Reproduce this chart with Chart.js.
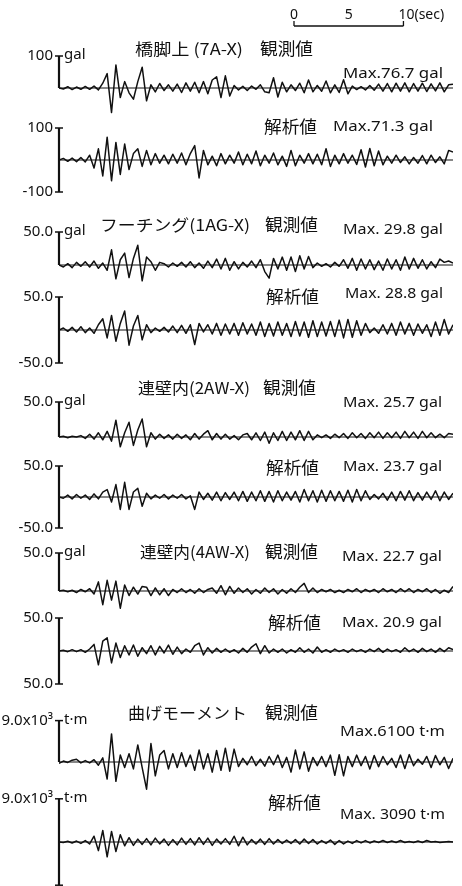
<!DOCTYPE html>
<html lang="ja">
<head>
<meta charset="utf-8">
<title>地震応答波形 観測値と解析値</title>
<script src="https://cdn.jsdelivr.net/npm/chart.js@4.4.1/dist/chart.umd.min.js"></script>
<style>
  html, body { margin: 0; padding: 0; background: #fff; }
  #wrap { position: relative; width: 462px; height: 886px; }
  canvas { display: block; }
</style>
</head>
<body>
<div id="wrap"><canvas id="wave" width="462" height="886"></canvas></div>
<script>
// Sampling of the digitised records
const DT = 0.4;          // s between samples
const T_END = 36;        // s shown on every trace
const SCALE_BAR = [0, 5, 10];   // s, time scale marks

// 橋脚上 (7A-X), gal
const obs7A = [
  0, -3, 4, -5, 3, -4, 5, -4, 6, -6,
  15, 45, -76.7, 72, -30, 20, -15, -35, 20, 65,
  -40, 10, -12, 14, -8, 10, -10, 12, -14, 16,
  -10, 18, -15, 20, -18, 25, 35, -30, 38, -25,
  8, -6, 5, -8, 6, -4, 10, -12, -15, 32,
  -28, 18, -12, 10, -8, 15, -15, 25, -12, 8,
  -10, 22, -15, 10, -14, 26, -18, 6, -5, 4,
  -6, 8, -7, 12, -10, 14, -12, 15, -10, 16,
  -12, 14, -10, 15, -11, 13, -9, 16, -12, 10,
  12
];
const sim7A = [
  0, 5, -4, 6, -5, 8, -6, 15, -25, 35,
  -50, 71.3, -65, 55, -45, 50, -30, 20, 35, -20,
  30, -15, 20, -10, 15, -12, 18, -10, 22, -15,
  20, 45, -56, 30, -15, 12, -18, 20, -12, 15,
  -10, 25, -15, 18, -12, 28, -18, 15, -10, 22,
  -15, 12, -20, 30, -18, 15, -10, 20, -12, 18,
  -15, 35, -20, 15, -12, 20, -10, 15, -14, 32,
  -22, 36, -18, 28, -15, 12, -10, 15, -8, 10,
  -12, 8, -10, 14, -12, 15, -8, 10, -12, 30,
  25
];
// フーチング (1AG-X), gal
const obs1AG = [
  0, -3, 2, -4, 4, -2, 5, -3, 6, -5,
  3, -8, 23, -21, 8, 18, -19, 10, 29.8, -24,
  12, 5, -8, 4, 2, -3, 3, -2, 4, -3,
  5, -4, 3, -5, 6, -4, 9, -6, 10, -8,
  5, -6, 4, -3, 6, -4, 8, -10, -20, 10,
  -6, 12, -8, 12, -10, 14, -6, 13, -4, 3,
  -2, 2, -3, 4, -2, 8, -5, 10, -8, 9,
  -6, 8, -7, 6, -8, 9, -6, 8, -8, 12,
  -6, 10, -5, 8, -6, 5, -4, 9, 4, 6,
  3
];
const sim1AG = [
  0, 3, -2, 4, -3, 5, -4, 3, -5, 8,
  17, -12, 22, -17, 10, 28.8, -23, 6, 22, -15,
  8, -4, 3, -2, 4, -3, 6, -4, 7, -5,
  8, -22, 10, -3, 8, -6, 10, -8, 9, -6,
  10, -8, 11, -6, 9, -8, 12, -10, 10, -9,
  12, -8, 10, -10, 13, -9, 12, -11, 14, -10,
  12, -9, 13, -10, 15, -12, 16, -11, 14, -8,
  10, -4, 3, -5, 8, -6, 10, -8, 12, -6,
  10, -8, 9, -5, 8, -10, 12, -8, 16, -6,
  8
];
// 連壁内 (2AW-X), gal
const obs2AW = [
  0, 1, -1, 1, 0, 2, -2, 4, -3, 6,
  -4, 8, -6, 24, -14, 6, 21, -12, 10, 25.7,
  -14, 6, -3, 4, -2, 3, -3, 4, -2, 3,
  -4, 5, -3, 4, 9, -4, 5, -3, 4, -3,
  2, -4, 3, 5, -4, 6, -5, 7, -9, 6,
  -5, 8, -5, 7, -4, 9, -5, 8, -4, 3,
  -1, 3, -2, 4, -1, 5, -2, 6, -1, 5,
  -2, 6, -1, 7, -2, 6, -1, 7, -2, 8,
  -1, 7, -2, 8, -1, 6, -1, 4, -1, 5,
  4
];
const sim2AW = [
  0, -2, 3, -3, 4, -2, 3, -4, 5, -3,
  8, 12, -8, 20, -20, 23.7, -20, 8, 14, -15,
  6, -3, 3, -2, 4, -3, 3, -2, 4, -3,
  2, -20, 8, -4, 6, -5, 8, -6, 7, -4,
  8, -6, 9, -7, 8, -6, 10, -7, 9, -8,
  10, -6, 8, -5, 9, -8, 12, -6, 10, -8,
  11, -7, 10, -6, 9, -7, 11, -8, 12, -6,
  10, -4, 4, -3, 6, -5, 8, -6, 9, -5,
  10, -6, 7, -5, 8, -4, 10, -6, 8, -4,
  6
];
// 連壁内 (4AW-X), gal
const obs4AW = [
  0, 1, -1, 1, -2, 2, -1, 3, -4, 12,
  -18, 14, -12, 13, -22.7, 8, -6, 5, -4, 6,
  5, -6, 4, -5, 3, -6, 2, -2, 3, -2,
  2, -3, 3, -2, 2, 4, -3, 7, -5, 6,
  -3, 4, -2, 3, -4, 2, -3, 4, -2, 3,
  -4, 2, -3, 3, -2, 5, 10, -2, 4, -2,
  2, -1, 2, -2, 1, -2, 2, -1, 3, -2,
  2, -1, 2, -2, 3, -1, 2, -2, 3, -1,
  3, -2, 2, -1, 3, -2, 2, -3, 1, -2,
  6
];
const sim4AW = [
  0, 1, -1, 2, -1, 2, -2, 3, 10, -20.9,
  15, 20, -18, 12, -10, 8, -6, 9, -8, 5,
  -4, 8, -6, 7, -3, 9, -5, 6, -4, 3,
  -2, 8, 12, -6, 5, -3, 4, -2, 3, -2,
  2, -3, 4, -2, 6, 11, -4, 8, -3, 3,
  -2, 3, -3, 2, -2, 5, -2, 3, -3, 6,
  -2, 2, -2, 3, -1, 2, -2, 3, -1, 2,
  -2, 3, -1, 4, -2, 3, -1, 2, -2, 5,
  -1, 3, -2, 4, -1, 3, -2, 4, -1, 5,
  2
];
// 曲げモーメント, t·m
const obsMoment = [
  -300, 200, -100, 400, 600, -200, 300, -200, 500, -700,
  900, -3700, 6100, -4200, 1500, -1200, 1800, -1500, 3700, -1200,
  -5900, 4000, -3000, 1500, 2500, -1500, 1800, -1200, 2000, -1000,
  1500, -1800, 2600, -1500, 1800, -2200, 2500, -1800, 3000, -2000,
  2800, -1000, 800, -600, 1200, -800, 600, -900, 1200, -600,
  1500, -1200, 1000, -2200, 2600, -1500, 2200, -2000, 1000, -800,
  1200, -1000, 1500, -2900, 1600, -3000, 1200, -1000, 1500, -800,
  1200, -1500, 1400, -1000, 1200, -600, 800, -1200, 1500, -1400,
  1600, -800, 600, -500, 1200, -1200, 1400, -600, 1000, -1400,
  800
];
const simMoment = [
  0, -100, 150, -200, 200, -300, 300, -400, 1200, -1800,
  2400, -3090, 2200, -2000, 1500, -800, 900, -700, 600, -500,
  700, -600, 800, -400, 600, -700, 500, -600, 800, -500,
  700, -600, 900, -500, 800, -700, 600, -400, 700, -500,
  1200, -800, 1000, -600, 500, -400, 600, -500, 700, -400,
  500, -300, 400, -300, 500, -400, 600, -300, 500, -400,
  300, -300, 400, -500, 300, -400, 200, -300, 300, -200,
  300, -200, 200, -100, 300, -100, 200, -100, 300, -100,
  100, -100, 200, -100, 300, 0, 100, -100, 0, 100,
  0
];

const records = [obs7A, sim7A, obs1AG, sim1AG, obs2AW, sim2AW, obs4AW, sim4AW, obsMoment, simMoment];

// Texts of each trace
const titleLeft  = ['橋脚上 (7A-X)', '', 'フーチング(1AG-X)', '', '連壁内(2AW-X)', '', '連壁内(4AW-X)', '', '曲げモーメント', ''];
const titleRight = ['観測値', '解析値', '観測値', '解析値', '観測値', '解析値', '観測値', '解析値', '観測値', '解析値'];
const maxLabels  = ['Max.76.7 gal', 'Max.71.3 gal', 'Max. 29.8 gal', 'Max. 28.8 gal', 'Max. 25.7 gal',
                    'Max. 23.7 gal', 'Max. 22.7 gal', 'Max. 20.9 gal', 'Max.6100 t·m', 'Max. 3090 t·m'];
const units      = ['gal', '', 'gal', '', 'gal', '', 'gal', '', 't·m', 't·m'];
// Axis extent of each trace and its tick labels
const axisTop    = [100, 100, 50, 50, 50, 50, 50, 50, 9000, 9000];
const axisBottom = [0, -100, 0, -50, 0, -50, 0, -50, 0, -9000];
const topTickLabels    = ['100', '100', '50.0', '50.0', '50.0', '50.0', '50.0', '50.0', '9.0x10³', '9.0x10³'];
const bottomTickLabels = ['', '-100', '', '-50.0', '', '-50.0', '', '50.0', '', ''];

// Page layout (pixels)
const W = 462, H = 886;
const PLOT_LEFT = 59, PLOT_RIGHT = 453;
const ZERO_PX   = [88, 160, 265, 330, 437, 497, 591, 651, 762, 842];
const PX_PER_UNIT = [0.32, 0.32, 0.66, 0.66, 0.70, 0.62, 0.76, 0.66, 0.0046, 0.0048];
const TITLE_Y   = [49, 127, 225, 297, 388, 468, 552, 623, 713, 803];
const TITLE_X   = [135, 0, 100, 0, 138, 0, 140, 0, 128, 0];
const TITLE_W   = [108, 0, 150, 0, 112, 0, 110, 0, 119, 0];
const TITLE_R_X = [260, 264, 265, 266, 263, 266, 265, 268, 265, 268];
const MAX_X     = [343, 333, 343, 345, 343, 343, 342, 342, 340, 340];
const MAX_Y     = [74, 127, 230, 294, 403, 467, 557, 623, 732, 815];
const MAX_W     = [100, 100, 100, 98, 99, 99, 100, 100, 105, 105];
const BAR_X0 = 294, BAR_Y = 26, BAR_LABEL_Y = 15;

const INK = '#111111';
const LATIN = '"Noto Sans", "DejaVu Sans", sans-serif';
const CJK = '"Noto Sans CJK JP", "Noto Sans CJK SC", sans-serif';

// y scale per trace: zero at ZERO_PX with PX_PER_UNIT over a full-height chart area
const scales = {
  x: { type: 'linear', min: 0, max: T_END, display: false }
};
records.forEach((_, i) => {
  scales['y' + i] = {
    type: 'linear',
    display: false,
    min: -(H - ZERO_PX[i]) / PX_PER_UNIT[i],
    max: ZERO_PX[i] / PX_PER_UNIT[i]
  };
});

const datasets = records.map((vals, i) => ({
  data: vals.map((v, k) => ({ x: k * DT, y: v })),
  yAxisID: 'y' + i,
  borderColor: INK,
  borderWidth: 1.5,
  pointRadius: 0,
  tension: 0,
  fill: false,
  borderJoinStyle: 'round'
}));

function fitText(ctx, str, x, y, w, font, align) {
  ctx.font = font;
  const nat = ctx.measureText(str).width || 1;
  ctx.save();
  ctx.translate(x, y);
  ctx.scale(w / nat, 1);
  ctx.textAlign = align || 'left';
  ctx.fillText(str, 0, 0);
  ctx.restore();
}

function seg(ctx, x0, y0, x1, y1) {
  ctx.beginPath();
  ctx.moveTo(x0, y0);
  ctx.lineTo(x1, y1);
  ctx.stroke();
}

// Axes, baselines, labels and the time scale bar
const decor = {
  id: 'decor',
  afterDatasetsDraw(chart) {
    const ctx = chart.ctx;
    const xs = chart.scales.x;
    const xa = xs.getPixelForValue(0);
    const xb = xs.getPixelForValue(T_END);
    ctx.save();
    ctx.strokeStyle = INK;
    ctx.fillStyle = INK;
    ctx.textBaseline = 'middle';

    records.forEach((_, i) => {
      const ys = chart.scales['y' + i];
      const yz = ys.getPixelForValue(0);
      const yt = ys.getPixelForValue(axisTop[i]);
      const yb = ys.getPixelForValue(axisBottom[i]);

      ctx.lineWidth = 1.1;
      seg(ctx, xa, yz, xb, yz);

      ctx.lineWidth = 2.2;
      seg(ctx, xa, yt, xa, yb);
      ctx.lineWidth = 1.5;
      seg(ctx, xa - 4, yt, xa + 4, yt);
      if (axisBottom[i] !== 0) seg(ctx, xa - 4, yb, xa + 4, yb);

      ctx.font = '15px ' + LATIN;
      ctx.textAlign = 'right';
      ctx.fillText(topTickLabels[i], xa - 6, yt);
      if (bottomTickLabels[i]) ctx.fillText(bottomTickLabels[i], xa - 6, yb);

      if (units[i]) {
        ctx.textAlign = 'left';
        ctx.fillText(units[i], xa + 5, yt - 1);
      }

      if (titleLeft[i]) fitText(ctx, titleLeft[i], TITLE_X[i], TITLE_Y[i], TITLE_W[i], '16px ' + CJK);
      fitText(ctx, titleRight[i], TITLE_R_X[i], TITLE_Y[i], 53, '17px ' + CJK);
      fitText(ctx, maxLabels[i], MAX_X[i], MAX_Y[i], MAX_W[i], '14px ' + LATIN);
    });

    // time scale bar
    const len = xs.getPixelForValue(SCALE_BAR[2]) - xs.getPixelForValue(SCALE_BAR[0]);
    ctx.lineWidth = 1.3;
    seg(ctx, BAR_X0, BAR_Y, BAR_X0 + len, BAR_Y);
    seg(ctx, BAR_X0, BAR_Y, BAR_X0, BAR_Y - 5);
    seg(ctx, BAR_X0 + len, BAR_Y, BAR_X0 + len, BAR_Y - 5);
    ctx.font = '14px ' + LATIN;
    ctx.textAlign = 'center';
    SCALE_BAR.forEach((s, k) => {
      const px = BAR_X0 + len * s / SCALE_BAR[2];
      if (k < SCALE_BAR.length - 1) ctx.fillText(String(s), px, BAR_LABEL_Y);
    });
    ctx.textAlign = 'left';
    ctx.fillText(SCALE_BAR[2] + '(sec)', BAR_X0 + len - 5, BAR_LABEL_Y);
    ctx.restore();
  }
};

new Chart(document.getElementById('wave'), {
  type: 'line',
  data: { datasets },
  options: {
    responsive: false,
    animation: false,
    devicePixelRatio: 1,
    events: [],
    layout: { padding: { left: PLOT_LEFT, right: W - PLOT_RIGHT, top: 0, bottom: 0 } },
    plugins: { legend: { display: false }, tooltip: { enabled: false }, title: { display: false } },
    scales
  },
  plugins: [decor]
});
</script>
</body>
</html>
